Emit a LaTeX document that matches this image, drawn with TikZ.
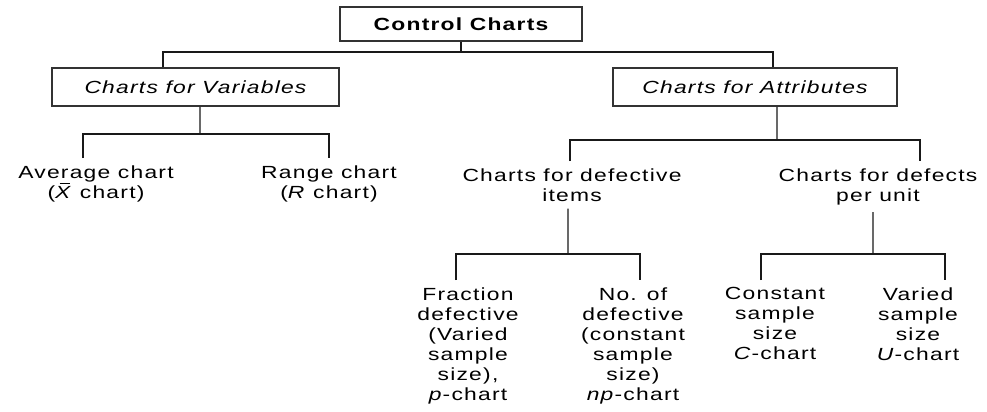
\documentclass[tikz,border=0pt]{standalone}
\usepackage{fontspec}
\setmainfont{Liberation Sans}[FakeStretch=1.3,LetterSpace=7]
\usepackage{tikz}
\usetikzlibrary{positioning}
\newcommand{\xbarsym}{\rlap{\hspace{0.25em}\rule[8pt]{0.6em}{0.5pt}}\textit{X}}

\begin{document}
\begin{tikzpicture}[
					headbox/.style={rectangle, draw=black!80, line width=0.9pt, fill=white, inner sep=2pt},
					leafnode/.style={align=center, inner sep=4pt, anchor=north, font=\fontsize{10}{11.4}\selectfont},
					branch/.style={draw=black!90, line width=0.8pt},
					]
					\useasboundingbox (0,0) rectangle (19.74,-8.22);
					%Nodes
					\node[headbox, minimum width=4.84cm, minimum height=0.68cm, font=\fontsize{10}{11.4}\selectfont\bfseries] (cc) at (9.22,-0.48) {Control Charts};
					\node[headbox, minimum width=5.74cm, minimum height=0.76cm, font=\fontsize{10}{11.4}\selectfont\itshape] (var) at (3.91,-1.74) {Charts for Variables};
					\node[headbox, minimum width=5.68cm, minimum height=0.76cm, font=\fontsize{10}{11.4}\selectfont\itshape] (att) at (15.1,-1.74) {Charts for Attributes};

					\node[leafnode] (avg)    at (1.92,-3.16)  {Average chart\\(\xbarsym\ chart)};
					\node[leafnode] (rng)    at (6.58,-3.16)  {Range chart\\(\textit{R} chart)};
					\node[leafnode] (defit)  at (11.44,-3.22) {Charts for defective\\items};
					\node[leafnode] (defun)  at (17.56,-3.22) {Charts for defects\\per unit};

					\node[leafnode] (frac)   at (9.36,-5.6)   {Fraction\\defective\\(Varied\\sample\\size),\\\textit{p}-chart};
					\node[leafnode] (nodef)  at (12.66,-5.6)  {No. of\\defective\\(constant\\sample\\size)\\\textit{np}-chart};
					\node[leafnode] (const)  at (15.5,-5.6)   {Constant\\sample\\size\\\textit{C}-chart};
					\node[leafnode] (vard)   at (18.36,-5.6)  {Varied\\sample\\size\\\textit{U}-chart};

					%Junctions
					\coordinate (ccbar)  at (9.22,-1.04);
					\coordinate (varbar) at (4.0,-2.68);
					\coordinate (attbar) at (15.54,-2.8);
					\coordinate (itbar)  at (11.36,-5.08);
					\coordinate (unbar)  at (17.46,-5.08);

					%Lines
					\draw[branch] (cc.south) -- (ccbar);
					\draw[branch] ([xshift=-0.65cm]var.north) |- (ccbar) -| ([xshift=0.36cm]att.north);

					\draw[branch] ([xshift=0.09cm]var.south) -- (varbar);
					\draw[branch] ([xshift=-0.26cm]avg.north) |- (varbar) -| (rng.north);

					\draw[branch] ([xshift=0.44cm]att.south) -- (attbar);
					\draw[branch] ([xshift=-0.04cm]defit.north) |- (attbar) -| ([xshift=0.84cm]defun.north);

					\draw[branch] ([xshift=-0.08cm]defit.south) -- (itbar);
					\draw[branch] ([xshift=-0.24cm]frac.north) |- (itbar) -| ([xshift=0.14cm]nodef.north);

					\draw[branch] ([xshift=-0.1cm]defun.south) -- (unbar);
					\draw[branch] ([xshift=-0.28cm]const.north) |- (unbar) -| ([xshift=0.54cm]vard.north);
				\end{tikzpicture}
\end{document}
